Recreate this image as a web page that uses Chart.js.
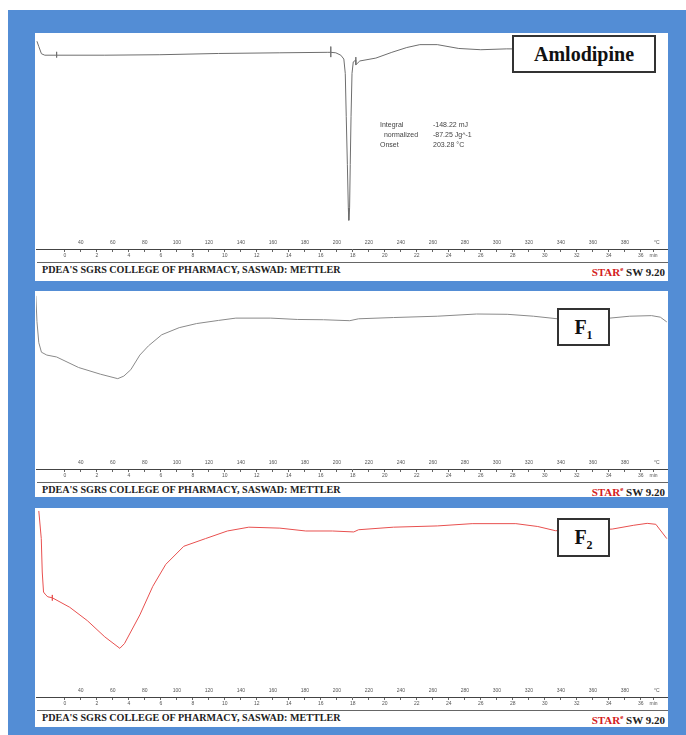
<!DOCTYPE html>
<html>
<head>
<meta charset="utf-8">
<script src="https://cdn.jsdelivr.net/npm/chart.js@4.4.0/dist/chart.umd.min.js"></script>
<style>
body { margin:0; width:686px; height:735px; background:#fff; position:relative; overflow:hidden; }
#frame { position:absolute; left:8px; top:10px; width:678px; height:725px; background:#538dd5; }
.panel { position:absolute; left:35px; width:633px; background:#fff; }
.panel canvas { position:absolute; left:0; top:0; }
.sep { position:absolute; left:2px; right:0; height:0; border-top:1px solid #666; }
.foot { position:absolute; left:7px; font:bold 10.1px "Liberation Serif", serif; color:#222; white-space:nowrap; line-height:11px; }
.star { position:absolute; right:3px; font:bold 11px "Liberation Serif", serif; color:#222; white-space:nowrap; line-height:11px; }
.star span { color:#d42020; }
.star sup { font-size:7px; }
.tag { position:absolute; box-sizing:border-box; border:2px solid #333; background:#fff;
       font:bold 20px "Liberation Serif", serif; color:#111; text-align:center; }
.tag sub { font-size:12px; }
.note { position:absolute; font:7px "Liberation Sans", sans-serif; color:#444; line-height:10px; white-space:pre; }
</style>
</head>
<body>
<div id="frame"></div>

<div class="panel" style="top:33px;height:248px;">
  <canvas id="c1" width="633" height="229"></canvas>
  <div class="tag" style="left:477px;top:2px;width:144px;height:38px;line-height:34px;">Amlodipine</div>
  <div class="note" style="left:345px;top:87px;">Integral
  normalized
Onset</div>
  <div class="note" style="left:398px;top:87px;">-148.22 mJ
-87.25 Jg^-1
203.28 °C</div>
  <div class="sep" style="top:229px;"></div>
  <div class="foot" style="top:231px;">PDEA'S SGRS COLLEGE OF PHARMACY, SASWAD: METTLER</div>
  <div class="star" style="top:231px;"><span>STAR<sup>e</sup></span> SW 9.20</div>
</div>

<div class="panel" style="top:291px;height:206px;">
  <canvas id="c2" width="633" height="191"></canvas>
  <div class="tag" style="left:522px;top:17px;width:53px;height:38px;line-height:34px;">F<sub>1</sub></div>
  <div class="sep" style="top:191px;"></div>
  <div class="foot" style="top:193px;">PDEA'S SGRS COLLEGE OF PHARMACY, SASWAD: METTLER</div>
  <div class="star" style="top:193px;"><span>STAR<sup>e</sup></span> SW 9.20</div>
</div>

<div class="panel" style="top:508px;height:219px;">
  <canvas id="c3" width="633" height="202"></canvas>
  <div class="tag" style="left:522px;top:10px;width:53px;height:39px;line-height:35px;">F<sub>2</sub></div>
  <div class="sep" style="top:202px;"></div>
  <div class="foot" style="top:204px;">PDEA'S SGRS COLLEGE OF PHARMACY, SASWAD: METTLER</div>
  <div class="star" style="top:204px;"><span>STAR<sup>e</sup></span> SW 9.20</div>
</div>

<script>
// temperature range shown (°C), 10 °C/min from 30 °C
const tempMin = 12;
const tempMax = 407;
const startTemp = 30;
const heatRate = 10;

// ruler labels
const tempTicks = [40, 60, 80, 100, 120, 140, 160, 180, 200, 220, 240, 260, 280, 300, 320, 340, 360, 380, 400];
const tempTickLabels = ['40', '60', '80', '100', '120', '140', '160', '180', '200', '220', '240', '260', '280', '300', '320', '340', '360', '380', '°C'];
const minuteTicks = [0, 1, 2, 3, 4, 5, 6, 7, 8, 9, 10, 11, 12, 13, 14, 15, 16, 17, 18, 19, 20,
                     21, 22, 23, 24, 25, 26, 27, 28, 29, 30, 31, 32, 33, 34, 35, 36, 36.8];
const minuteTickLabels = ['0', '', '2', '', '4', '', '6', '', '8', '', '10', '', '12', '', '14', '', '16', '', '18', '', '20',
                          '', '22', '', '24', '', '26', '', '28', '', '30', '', '32', '', '34', '', '36', 'min'];

// Amlodipine (heat flow, arb. mW)
const amloTemp = [12.6, 13.75, 15.4, 17.5, 24.9, 24.9, 24.9, 24.9, 55, 89.4, 126, 164.4, 194.4,
                  196.25, 196.25, 196.25, 196.25, 199.4, 202.5, 204.4, 205.3, 205.9, 206.6, 207.2, 207.5,
                  208, 208.4, 208.9, 209.5, 210.3, 211.9, 211.9, 211.9, 214.4, 224.4, 234.4, 243.75,
                  251.9, 262.8, 276.25, 290, 306.25, 314.4];
const amloFlow = [1.7, 0.6, -0.9, -1.2, -1.2, -0.5, -1.7, -1.2, -1.2, -1.1, -0.84, -0.7, -0.6,
                  -0.6, 0.6, -1.6, -0.6, -0.7, -1.2, -2, -5, -14, -24, -33, -35.6,
                  -33, -24, -14, -5, -2.6, -2.2, -1.6, -3.2, -2.4, -1.8, -0.6, 0.4,
                  1, 1, 0.2, -0.06, 0.12, 0.1];

// F1
const f1Temp = [11.9, 12.6, 13.75, 15.4, 18.75, 24.9, 38.6, 52.25, 63.1, 66.9, 71.25, 76.9, 82.3, 90.6,
                101.5, 112.4, 126.1, 136.9, 158.75, 175.3, 191.7, 208.1, 213.6, 235.4, 262.8, 287.4,
                306.5, 322.9, 337.9, 353.75, 370.6, 383.1, 396.75, 402.2, 406.25];
const f1Flow = [12, -1.5, -12.5, -17.5, -19, -20, -25.5, -29, -31.35, -30, -26.65, -19, -14.15, -8.35,
                -4.65, -2.5, -0.85, 0.35, 0.35, -0.35, -0.5, -1, 0, 0.65, 1.35, 2.5,
                2.35, 1.35, 0, 0, 0.35, 1.35, 1.65, 0.85, -1.65];

// F2
const f2Temp = [13.75, 15.3, 15.9, 16.7, 18.1, 19.4, 22.2, 22.2, 22.2, 22.2, 33.1, 44.1, 55, 64.4, 67.3,
                76.9, 85, 93.1, 104.4, 117.9, 131.6, 145, 164.4, 180.6, 197.2, 210.6, 213.6, 235.4,
                262.8, 284.6, 311.9, 325.6, 336.6, 355, 372.1, 385.6, 394, 399.4, 406.25];
const f2Flow = [8.5, -6, -23.5, -34, -35.5, -36.5, -37, -35.5, -38.5, -37, -42, -49, -57.5, -63.5, -61,
                -46, -31, -19.5, -10, -6, -2, 0, -0.5, -2, -2, -2.5, -1.35, 0,
                0.65, 1.85, 1.85, 0.35, -1.85, -1.5, -1, 1, 2, 1.5, -6];

const rulerFont = { family: 'Liberation Sans', size: 5 };

function setTicks(values) {
    return function (scale) {
        scale.ticks = values.map(v => ({ value: v }));
    };
}

function makeChart(id, temps, flows, colour, yLo, yHi, padTop) {
    const points = temps.map((t, i) => ({ x: t, y: flows[i] }));
    return new Chart(document.getElementById(id), {
        type: 'line',
        data: {
            datasets: [{
                data: points,
                borderColor: colour,
                borderWidth: 1,
                pointRadius: 0,
                tension: 0,
                fill: false
            }]
        },
        options: {
            responsive: false,
            animation: false,
            devicePixelRatio: 1,
            layout: { padding: { left: 1, right: 0, top: padTop, bottom: 3 } },
            plugins: { legend: { display: false }, tooltip: { enabled: false } },
            scales: {
                x: {
                    type: 'linear',
                    position: 'bottom',
                    weight: 1,
                    min: tempMin,
                    max: tempMax,
                    afterBuildTicks: setTicks(tempTicks),
                    grid: { display: false },
                    border: { display: false },
                    ticks: {
                        font: rulerFont,
                        color: '#555',
                        padding: 3.5,
                        maxRotation: 0,
                        autoSkip: false,
                        callback: (v, i) => tempTickLabels[i]
                    }
                },
                xm: {
                    type: 'linear',
                    position: 'bottom',
                    weight: 2,
                    min: (tempMin - startTemp) / heatRate,
                    max: (tempMax - startTemp) / heatRate,
                    afterBuildTicks: setTicks(minuteTicks),
                    grid: { display: true, drawOnChartArea: false, drawTicks: true, tickLength: 3, color: '#666' },
                    border: { display: true, color: '#444', width: 1 },
                    ticks: {
                        font: rulerFont,
                        color: '#555',
                        padding: 0.5,
                        maxRotation: 0,
                        autoSkip: false,
                        callback: (v, i) => minuteTickLabels[i]
                    }
                },
                y: { display: false, min: yLo, max: yHi }
            }
        }
    });
}

makeChart('c1', amloTemp, amloFlow, '#6e6e6e', -37.2, 2.8, 3);
makeChart('c2', f1Temp, f1Flow, '#8a8a8a', -67.65, 13.5, 2);
makeChart('c3', f2Temp, f2Flow, '#e8504f', -78, 9, 2);
</script>
</body>
</html>
